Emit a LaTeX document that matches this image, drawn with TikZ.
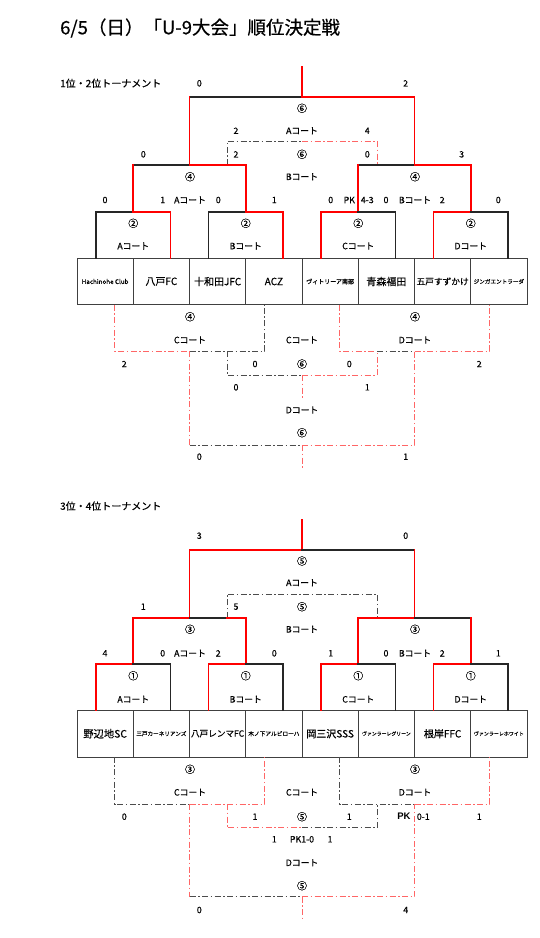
\documentclass[tikz,border=0pt]{standalone}
\usepackage{fontspec}
\setmainfont{Noto Sans CJK JP}[FakeBold=0.5]
\newfontfamily\latinbf{Liberation Sans}
\usetikzlibrary{positioning}

\begin{document}
\begin{tikzpicture}[
    x=1pt, y=-1pt,
    node distance=0pt,
    every node/.style={font=\fontsize{8.8}{9}\selectfont, inner sep=0pt},
    team/.style={draw=black!75, line width=0.8pt, outer sep=0pt, minimum width=56.25pt, minimum height=46.5pt, font=\fontsize{10}{11}\selectfont},
    teamsm/.style={team, font=\fontsize{5.6}{6}\selectfont},
    rnd/.style={font=\fontsize{10}{10}\selectfont},
    win/.style={draw=red, line width=1.9pt, line cap=rect},
    lose/.style={draw=black!85, line width=1.9pt, line cap=rect},
    dwin/.style={draw=red!60, line width=1pt, dash pattern=on 6pt off 2.5pt on 1.5pt off 2.5pt},
    dlose/.style={draw=black!70, line width=1pt, dash pattern=on 6pt off 2.5pt on 1.5pt off 2.5pt}
]
\fill[white] (0,0) rectangle (539,938);
\useasboundingbox (0,0) rectangle (539,938);

\node[anchor=west, font=\fontsize{18.5}{19}\selectfont] (title) at (60,28) {6/5（日）「U-9大会」順位決定戦};

% ---------------- 1位・2位トーナメント ----------------
\node[anchor=west, font=\fontsize{10}{10}\selectfont] (uhead) at (60,83.3) {1位・2位トーナメント};

\node[teamsm, font=\fontsize{6.3}{7}\selectfont] (t1) at (105.125,281.5) {Hachinohe Club};
\node[team, right=of t1] (t2) {八戸FC};
\node[team, right=of t2] (t3) {十和田JFC};
\node[team, right=of t3] (t4) {ACZ};
\node[teamsm, font=\fontsize{6}{7}\selectfont, right=of t4] (t5) {ヴィトリーア南部};
\node[team, right=of t5] (t6) {青森福田};
\node[team, font=\fontsize{8.7}{9}\selectfont, right=of t6] (t7) {五戸すずかけ};
\node[teamsm, right=of t7] (t8) {ジンガエントラーダ};

\coordinate (uT) at (302,67);
\coordinate (uF) at (302,97.3);
\coordinate (uFl) at (189.5,97.3);
\coordinate (uFr) at (414.5,97.3);
\coordinate (uSl) at (227,141);
\coordinate (uS) at (302,141);
\coordinate (uSr) at (377,141);
\coordinate (uAl) at (133.25,165);
\coordinate (uA) at (189.5,165);
\coordinate (uAr) at (245.75,165);
\coordinate (uBl) at (358.25,165);
\coordinate (uB) at (414.5,165);
\coordinate (uBr) at (470.75,165);
\coordinate (u1l) at (96,211.7);
\coordinate (u1) at (133.25,211.7);
\coordinate (u1r) at (170.5,211.7);
\coordinate (u2l) at (208.5,211.7);
\coordinate (u2) at (245.75,211.7);
\coordinate (u2r) at (283,211.7);
\coordinate (u3l) at (321,211.7);
\coordinate (u3) at (358.25,211.7);
\coordinate (u3r) at (395.5,211.7);
\coordinate (u4l) at (433.5,211.7);
\coordinate (u4) at (470.75,211.7);
\coordinate (u4r) at (508,211.7);
\coordinate (uCl) at (114.5,351);
\coordinate (uC) at (189.5,351);
\coordinate (uCr) at (264.5,351);
\coordinate (uDl) at (339.5,351);
\coordinate (uDm) at (377,351);
\coordinate (uD) at (414.5,351);
\coordinate (uDr) at (489.5,351);
\coordinate (uEl) at (227,375);
\coordinate (uE) at (302,375);
\coordinate (uEr) at (377,375);
\coordinate (uEb) at (302,400);
\coordinate (uGl) at (189.5,445);
\coordinate (uG) at (302,445);
\coordinate (uGr) at (414.5,445);
\coordinate (uGb) at (302,468);

% final and semis
\draw[win] (uT) -- (uF);
\draw[lose] (uFl) -- (uF);
\draw[win] (uF) -- (uFr);
\draw[win] (uA) -- (uFl);
\draw[win] (uB) -- (uFr);
\draw[dlose] (uSl |- uA) -- (uSl) -- (uS);
\draw[dwin] (uS) -- (uSr) -- (uSr |- uB);
\draw[lose] (uAl) -- (uA);
\draw[win] (uA) -- (uAr);
\draw[win] (u1) -- (uAl);
\draw[win] (u2) -- (uAr);
\draw[lose] (uBl) -- (uB);
\draw[win] (uB) -- (uBr);
\draw[win] (u3) -- (uBl);
\draw[win] (u4) -- (uBr);
% first round
\draw[lose] (u1l |- t1.north) -- (u1l) -- (u1);
\draw[win] (u1) -- (u1r) -- (u1r |- t2.north);
\draw[lose] (u2l |- t3.north) -- (u2l) -- (u2);
\draw[win] (u2) -- (u2r) -- (u2r |- t4.north);
\draw[win] (u3l |- t5.north) -- (u3l) -- (u3);
\draw[lose] (u3) -- (u3r) -- (u3r |- t6.north);
\draw[win] (u4l |- t7.north) -- (u4l) -- (u4);
\draw[lose] (u4) -- (u4r) -- (u4r |- t8.north);
% lower side
\draw[dwin] (uCl |- t1.south) -- (uCl) -- (uC);
\draw[dlose] (uC) -- (uCr) -- (uCr |- t4.south);
\draw[dwin] (uDl |- t5.south) -- (uDl) -- (uDm);
\draw[dlose] (uDm) -- (uD);
\draw[dwin] (uD) -- (uDr) -- (uDr |- t8.south);
\draw[dlose] (uEl |- uC) -- (uEl) -- (uE);
\draw[dwin] (uE) -- (uEr) -- (uEr |- uD);
\draw[dwin] (uE) -- (uEb);
\draw[dwin] (uC) -- (uGl);
\draw[dlose] (uGl) -- (uG);
\draw[dwin] (uG) -- (uGr) -- (uD);
\draw[dwin] (uG) -- (uGb);

\node (uFs1) at (199.3,83.3) {0};
\node (uFs2) at (405.7,83.3) {2};
\node[rnd] (uFn) at (302,108.3) {⑥};
\node (uFc) at (302,130.7) {Aコート};
\node (uSs1) at (236,130.7) {2};
\node (uSs2) at (367.3,130.7) {4};
\node[rnd] (uSn) at (302,154.3) {⑥};
\node (uSc) at (302,176.7) {Bコート};
\node (uAs1) at (143.3,154.3) {0};
\node (uAs2) at (236,154.3) {2};
\node (uBs1) at (367.3,154.3) {0};
\node (uBs2) at (461.7,154.3) {3};
\node[rnd] (uAn) at (190,176.7) {④};
\node[rnd] (uBn) at (415,176.7) {④};
\node (uAc) at (190,200) {Aコート};
\node (uBc) at (415,200) {Bコート};
\node (u1s1) at (105,200) {0};
\node (u1s2) at (162.7,200) {1};
\node (u2s1) at (218.3,200) {0};
\node (u2s2) at (274.3,200) {1};
\node (u3s1) at (330.7,200) {0};
\node (u3pk) at (349.3,200) {PK};
\node (u3pks) at (367.3,200) {4-3};
\node (u3s2) at (386,200) {0};
\node (u4s1) at (442.3,200) {2};
\node (u4s2) at (498.3,200) {0};
\node[rnd] (u1n) at (133.25,223.3) {②};
\node[rnd] (u2n) at (245.75,223.3) {②};
\node[rnd] (u3n) at (358.25,223.3) {②};
\node[rnd] (u4n) at (470.75,223.3) {②};
\node (u1c) at (133.25,246) {Aコート};
\node (u2c) at (245.75,246) {Bコート};
\node (u3c) at (358.25,246) {Cコート};
\node (u4c) at (470.75,246) {Dコート};
\node[rnd] (uCn) at (190,316.7) {④};
\node (uCc) at (190,340) {Cコート};
\node[rnd] (uDn) at (415,316.7) {④};
\node (uDc) at (415,340) {Dコート};
\node (uEc) at (302,340) {Cコート};
\node (uCs1) at (124.3,364) {2};
\node (uCs2) at (255,364) {0};
\node[rnd] (uEn) at (302,364) {⑥};
\node (uDs1) at (349.3,364) {0};
\node (uDs2) at (479.3,364) {2};
\node (uEs1) at (236,387.3) {0};
\node (uEs2) at (367.3,387.3) {1};
\node (uGc) at (302,410) {Dコート};
\node[rnd] (uGn) at (302,432.7) {⑥};
\node (uGs1) at (199.3,456.7) {0};
\node (uGs2) at (405.7,456.7) {1};

% ---------------- 3位・4位トーナメント ----------------
\node[anchor=west, font=\fontsize{10}{10}\selectfont] (lhead) at (60,506) {3位・4位トーナメント};

\node[team, font=\fontsize{10.3}{11}\selectfont] (s1) at (105.125,733.7) {野辺地SC};
\node[teamsm, right=of s1] (s2) {三戸カーネリアンズ};
\node[team, font=\fontsize{8.6}{9}\selectfont, right=of s2] (s3) {八戸レンマFC};
\node[teamsm, font=\fontsize{5.7}{6}\selectfont, right=of s3] (s4) {木ノ下アルビローハ};
\node[team, right=of s4] (s5) {岡三沢SSS};
\node[teamsm, font=\fontsize{4.9}{5}\selectfont, right=of s5] (s6) {ヴァンラーレグリーン};
\node[team, right=of s6] (s7) {根岸FFC};
\node[teamsm, font=\fontsize{5}{5}\selectfont, right=of s7] (s8) {ヴァンラーレホワイト};

\coordinate (lT) at (302,519.7);
\coordinate (lF) at (302,550);
\coordinate (lFl) at (189.5,550);
\coordinate (lFr) at (414.5,550);
\coordinate (lSl) at (227,594);
\coordinate (lSr) at (377,594);
\coordinate (lAl) at (133.25,617.7);
\coordinate (lA) at (189.5,617.7);
\coordinate (lAm) at (227,617.7);
\coordinate (lAr) at (245.75,617.7);
\coordinate (lBl) at (358.25,617.7);
\coordinate (lB) at (414.5,617.7);
\coordinate (lBr) at (470.75,617.7);
\coordinate (l1l) at (96,664);
\coordinate (l1) at (133.25,664);
\coordinate (l1r) at (170.5,664);
\coordinate (l2l) at (208.5,664);
\coordinate (l2) at (245.75,664);
\coordinate (l2r) at (283,664);
\coordinate (l3l) at (321,664);
\coordinate (l3) at (358.25,664);
\coordinate (l3r) at (395.5,664);
\coordinate (l4l) at (433.5,664);
\coordinate (l4) at (470.75,664);
\coordinate (l4r) at (508,664);
\coordinate (lCl) at (114.5,804);
\coordinate (lC) at (189.5,804);
\coordinate (lCr) at (264.5,804);
\coordinate (lDl) at (339.5,804);
\coordinate (lD) at (414.5,804);
\coordinate (lDr) at (489.5,804);
\coordinate (lEl) at (227,827.7);
\coordinate (lE) at (302,827.7);
\coordinate (lEr) at (377,827.7);
\coordinate (lGl) at (189.5,896.7);
\coordinate (lG) at (302,896.7);
\coordinate (lGr) at (414.5,896.7);
\coordinate (lGb) at (302,918);

% final and semis
\draw[win] (lT) -- (lF);
\draw[win] (lFl) -- (lF);
\draw[lose] (lF) -- (lFr);
\draw[win] (lA) -- (lFl);
\draw[win] (lB) -- (lFr);
\draw[dlose] (lSl |- lA) -- (lSl) -- (lSr) -- (lSr |- lB);
\draw[win] (lAl) -- (lA);
\draw[lose] (lA) -- (lAm);
\draw[win] (lAm) -- (lAr);
\draw[win] (l1) -- (lAl);
\draw[win] (l2) -- (lAr);
\draw[win] (lBl) -- (lB);
\draw[lose] (lB) -- (lBr);
\draw[win] (l3) -- (lBl);
\draw[win] (l4) -- (lBr);
% first round
\draw[win] (l1l |- s1.north) -- (l1l) -- (l1);
\draw[lose] (l1) -- (l1r) -- (l1r |- s2.north);
\draw[win] (l2l |- s3.north) -- (l2l) -- (l2);
\draw[lose] (l2) -- (l2r) -- (l2r |- s4.north);
\draw[win] (l3l |- s5.north) -- (l3l) -- (l3);
\draw[lose] (l3) -- (l3r) -- (l3r |- s6.north);
\draw[win] (l4l |- s7.north) -- (l4l) -- (l4);
\draw[lose] (l4) -- (l4r) -- (l4r |- s8.north);
% lower side
\draw[dlose] (lCl |- s1.south) -- (lCl) -- (lC);
\draw[dwin] (lC) -- (lCr) -- (lCr |- s4.south);
\draw[dlose] (lDl |- s5.south) -- (lDl) -- (lD);
\draw[dwin] (lD) -- (lDr) -- (lDr |- s8.south);
\draw[dwin] (lEl |- lC) -- (lEl) -- (lE);
\draw[dlose] (lE) -- (lEr) -- (lEr |- lD);
\draw[dwin] (lC) -- (lGl);
\draw[dlose] (lGl) -- (lG);
\draw[dwin] (lG) -- (lGr) -- (lD);
\draw[dwin] (lG) -- (lGb);

\node (lFs1) at (199.3,535.7) {3};
\node (lFs2) at (405.7,535.7) {0};
\node[rnd] (lFn) at (302,561) {⑤};
\node (lFc) at (302,582.7) {Aコート};
\node[rnd] (lSn) at (302,606.7) {⑤};
\node (lSc) at (302,629.3) {Bコート};
\node (lAs1) at (143.3,606.7) {1};
\node (lAs2) at (236,606.7) {5};
\node[rnd] (lAn) at (190,629.3) {③};
\node[rnd] (lBn) at (415,629.3) {③};
\node (lAc) at (190,653.3) {Aコート};
\node (lBc) at (415,653.3) {Bコート};
\node (l1s1) at (105,653.3) {4};
\node (l1s2) at (162.7,653.3) {0};
\node (l2s1) at (218.3,653.3) {2};
\node (l2s2) at (274.3,653.3) {0};
\node (l3s1) at (330.7,653.3) {1};
\node (l3s2) at (386,653.3) {0};
\node (l4s1) at (442.3,653.3) {2};
\node (l4s2) at (498.3,653.3) {1};
\node[rnd] (l1n) at (133.25,675.7) {①};
\node[rnd] (l2n) at (245.75,675.7) {①};
\node[rnd] (l3n) at (358.25,675.7) {①};
\node[rnd] (l4n) at (470.75,675.7) {①};
\node (l1c) at (133.25,699.3) {Aコート};
\node (l2c) at (245.75,699.3) {Bコート};
\node (l3c) at (358.25,699.3) {Cコート};
\node (l4c) at (470.75,699.3) {Dコート};
\node[rnd] (lCn) at (190,769.3) {③};
\node (lCc) at (190,792.3) {Cコート};
\node[rnd] (lDn) at (415,769.3) {③};
\node (lDc) at (415,792.3) {Dコート};
\node (lEc) at (302,792.3) {Cコート};
\node (lCs1) at (124.3,816.7) {0};
\node (lCs2) at (255,816.7) {1};
\node[rnd] (lEn) at (302,816.7) {⑤};
\node (lDs1) at (349.3,816.7) {1};
\node[font=\latinbf\bfseries\fontsize{9.5}{10}\selectfont] (lDpk) at (404,816.7) {PK};
\node (lDpks) at (423.3,816.7) {0-1};
\node (lDs2) at (479.3,816.7) {1};
\node (lEs1) at (274.3,839.3) {1};
\node (lEpk) at (302,839.3) {PK1-0};
\node (lEs2) at (330,839.3) {1};
\node (lGc) at (302,862.7) {Dコート};
\node[rnd] (lGn) at (302,885.7) {⑤};
\node (lGs1) at (199.3,910) {0};
\node (lGs2) at (405.7,910) {4};
\end{tikzpicture}
\end{document}
